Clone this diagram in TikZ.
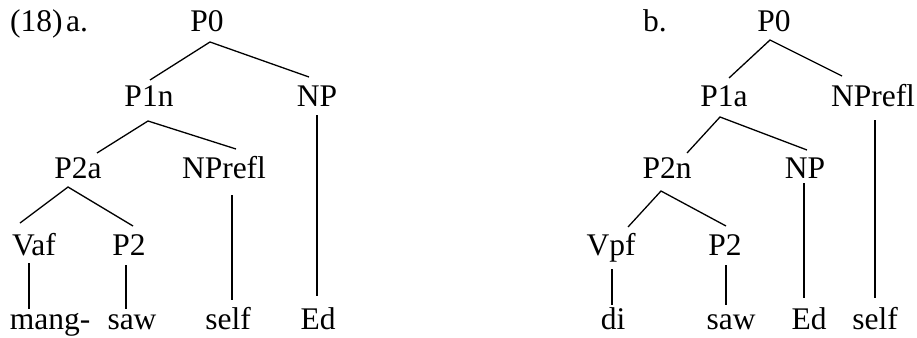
\documentclass[tikz,border=0pt]{standalone}
\usepackage{fontspec}
\setmainfont{Liberation Serif}
\begin{document}
\begin{tikzpicture}[x=1pt,y=-1pt,
  lbl/.style={anchor=base,inner sep=0pt,font=\fontsize{31.5}{38}\selectfont},
  edge/.style={line width=1.3pt}]
\useasboundingbox (0,0) rectangle (917,337);

% example number and sub-labels
\node[lbl,anchor=base west] (num) at (10,32) {(18)};
\node[lbl,anchor=base west] (la) at (66,32) {a.};
\node[lbl,anchor=base west] (lb) at (643,32) {b.};

% ---- tree (a) ----
\node[lbl] (a0)   at (207,32)  {P0};
\node[lbl] (a1n)  at (149,106) {P1n};
\node[lbl] (anp)  at (317,106) {NP};
\node[lbl] (a2a)  at (78,178)  {P2a};
\node[lbl] (arf)  at (224,178) {NPrefl};
\node[lbl] (avaf) at (34,255)  {Vaf};
\node[lbl] (ap2)  at (129,255) {P2};
\node[lbl] (wmang) at (50,329) {mang-};
\node[lbl] (wsawa) at (132,329) {saw};
\node[lbl] (wselfa) at (228,329) {self};
\node[lbl] (weda) at (318,329) {Ed};

\draw[edge] ([shift={(1,-26)}]a1n.base) -- ([shift={(3,10)}]a0.base) -- ([shift={(-8,-29)}]anp.base);
\draw[edge] ([shift={(19,-25)}]a2a.base) -- ([shift={(-1,15)}]a1n.base) -- ([shift={(12,-29)}]arf.base);
\draw[edge] ([shift={(0,9)}]anp.base) -- ([shift={(-1,-33)}]weda.base);
\draw[edge] ([shift={(-14,-32)}]avaf.base) -- ([shift={(-10,9)}]a2a.base) -- ([shift={(4,-29)}]ap2.base);
\draw[edge] ([shift={(8,17)}]arf.base) -- ([shift={(4,-29)}]wselfa.base);
\draw[edge] ([shift={(-5,8)}]avaf.base) -- ([shift={(-21,-20)}]wmang.base);
\draw[edge] ([shift={(-3,10)}]ap2.base) -- ([shift={(-6,-20)}]wsawa.base);

% ---- tree (b) ----
\node[lbl] (b0)   at (774,32)  {P0};
\node[lbl] (b1a)  at (724,106) {P1a};
\node[lbl] (brf)  at (873,106) {NPrefl};
\node[lbl] (b2n)  at (667,178) {P2n};
\node[lbl] (bnp)  at (805,178) {NP};
\node[lbl] (bvpf) at (611,255) {Vpf};
\node[lbl] (bp2)  at (725,255) {P2};
\node[lbl] (wdi)  at (613,329) {di};
\node[lbl] (wsawb) at (731,329) {saw};
\node[lbl] (wedb) at (809,329) {Ed};
\node[lbl] (wselfb) at (875,329) {self};

\draw[edge] ([shift={(5,-28)}]b1a.base) -- ([shift={(-4,8)}]b0.base) -- ([shift={(-31,-30)}]brf.base);
\draw[edge] ([shift={(20,-25)}]b2n.base) -- ([shift={(-4,11)}]b1a.base) -- ([shift={(2,-28)}]bnp.base);
\draw[edge] ([shift={(2,14)}]brf.base) -- ([shift={(0,-31)}]wselfb.base);
\draw[edge] ([shift={(17,-28)}]bvpf.base) -- ([shift={(-6,13)}]b2n.base) -- ([shift={(1,-29)}]bp2.base);
\draw[edge] ([shift={(-1,5)}]bnp.base) -- ([shift={(-5,-31)}]wedb.base);
\draw[edge] ([shift={(1,14)}]bvpf.base) -- ([shift={(-1,-24)}]wdi.base);
\draw[edge] ([shift={(1,10)}]bp2.base) -- ([shift={(-5,-24)}]wsawb.base);
\end{tikzpicture}
\end{document}
